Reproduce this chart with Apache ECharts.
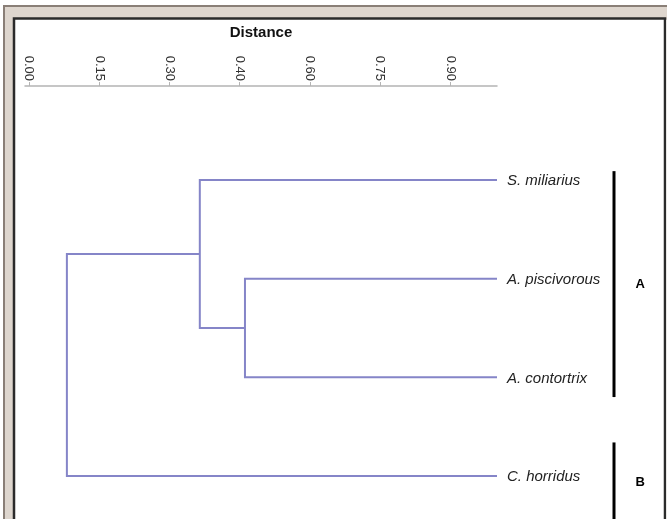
<!DOCTYPE html>
<html>
<head>
<meta charset="utf-8">
<title>Distance dendrogram</title>
<script src="https://cdn.jsdelivr.net/npm/echarts@6/dist/echarts.min.js"></script>
<style>
  html, body { margin: 0; padding: 0; background: #fff; }
  #chart { width: 667px; height: 519px; }
</style>
</head>
<body>
<div id="chart"></div>
<script>
// leaves, top to bottom
const leafNames = ['S. miliarius', 'A. piscivorous', 'A. contortrix', 'C. horridus'];
const leafDistance = 1.0;
// tick labels as printed on the axis (one every 0.15 step)
const tickLabels = ['0.00', '0.15', '0.30', '0.40', '0.60', '0.75', '0.90'];
const tickStep = 0.15;
// merges: [childA, childB, distance]; new nodes are numbered after the leaves
const mergeA = [1, 0, 5];
const mergeB = [2, 4, 3];
const mergeDist = [0.4615, 0.365, 0.081];
// clade bars, in leaf units
const groupNames = ['A', 'B'];
const groupStart = [-0.09, 2.66];
const groupEnd = [2.2, 3.48];

const lineColor = '#8585c8';
const barX = 1.25;
const groupLabelX = 1.306;

// node positions
let nodeX = leafNames.map(() => leafDistance);
let nodeY = leafNames.map((n, i) => i);
let segments = [];
for (let i = 0; i < mergeDist.length; i++) {
  const a = mergeA[i], b = mergeB[i], h = mergeDist[i];
  segments.push([nodeX[a], nodeY[a], h, nodeY[b], nodeX[b]]);
  nodeX.push(h);
  nodeY.push((nodeY[a] + nodeY[b]) / 2);
}
const tickValues = tickLabels.map((t, i) => i * tickStep);

const chart = echarts.init(document.getElementById('chart'));

chart.setOption({
  animation: false,
  backgroundColor: '#fff',
  textStyle: { fontFamily: 'Liberation Sans, Arial, sans-serif' },
  graphic: [
    {
      type: 'rect', z: -10,
      shape: { x: 4, y: 6, width: 700, height: 600 },
      style: { fill: '#ded6ce', stroke: '#8a7f77', lineWidth: 2 }
    },
    {
      type: 'rect', z: -9,
      shape: { x: 14, y: 18.5, width: 651, height: 600 },
      style: { fill: '#fff', stroke: '#2b2b2b', lineWidth: 2.5 }
    },
    {
      type: 'rect', z: -8,
      shape: { x: 666.3, y: 19.8, width: 20, height: 600 },
      style: { fill: '#fff' }
    }
  ],
  grid: { left: 25, right: 170, top: 86, bottom: 0 },
  xAxis: {
    type: 'value',
    position: 'top',
    min: -0.0085,
    max: leafDistance,
    name: 'Distance',
    nameLocation: 'middle',
    nameGap: 46,
    nameTextStyle: { fontSize: 15, fontWeight: 'bold', color: '#111' },
    axisLine: { show: true, onZero: false, lineStyle: { color: '#b4b4b4', width: 1.5 } },
    axisTick: { show: true, customValues: tickValues, length: 4, lineStyle: { color: '#b4b4b4' } },
    axisLabel: {
      customValues: tickValues,
      rotate: 90,
      margin: 5,
      fontSize: 13,
      color: '#333',
      formatter: (v) => tickLabels[Math.round(v / tickStep)]
    },
    splitLine: { show: false }
  },
  yAxis: {
    type: 'value',
    inverse: true,
    min: -0.953,
    max: 3.436,
    show: false
  },
  series: [
    {
      type: 'custom',
      data: segments,
      renderItem: (params, api) => {
        const p0 = api.coord([api.value(0), api.value(1)]);
        const p1 = api.coord([api.value(2), api.value(1)]);
        const p2 = api.coord([api.value(2), api.value(3)]);
        const p3 = api.coord([api.value(4), api.value(3)]);
        return {
          type: 'polyline',
          shape: { points: [p0, p1, p2, p3] },
          style: { stroke: lineColor, lineWidth: 2, fill: null }
        };
      }
    },
    {
      type: 'custom',
      data: leafNames.map((n, i) => [leafDistance, i]),
      renderItem: (params, api) => {
        const p = api.coord([api.value(0), api.value(1)]);
        return {
          type: 'text',
          x: p[0] + 10,
          y: p[1] + 1,
          style: {
            text: leafNames[params.dataIndex],
            fontSize: 15,
            fontStyle: 'italic',
            fontFamily: 'Liberation Sans, Arial, sans-serif',
            fill: '#222',
            verticalAlign: 'middle'
          }
        };
      }
    },
    {
      type: 'custom',
      data: groupNames.map((g, i) => [barX, groupStart[i], groupEnd[i]]),
      renderItem: (params, api) => {
        const top = api.coord([api.value(0), api.value(1)]);
        const bot = api.coord([api.value(0), api.value(2)]);
        const lab = api.coord([groupLabelX, (api.value(1) + api.value(2)) / 2]);
        return {
          type: 'group',
          children: [
            {
              type: 'line',
              shape: { x1: top[0], y1: top[1], x2: bot[0], y2: bot[1] },
              style: { stroke: '#000', lineWidth: 3 }
            },
            {
              type: 'text',
              x: lab[0],
              y: lab[1],
              style: {
                text: groupNames[params.dataIndex],
                fontSize: 13,
                fontWeight: 'bold',
                fontFamily: 'Liberation Sans, Arial, sans-serif',
                fill: '#000',
                align: 'center',
                verticalAlign: 'middle'
              }
            }
          ]
        };
      }
    }
  ]
});
</script>
</body>
</html>
